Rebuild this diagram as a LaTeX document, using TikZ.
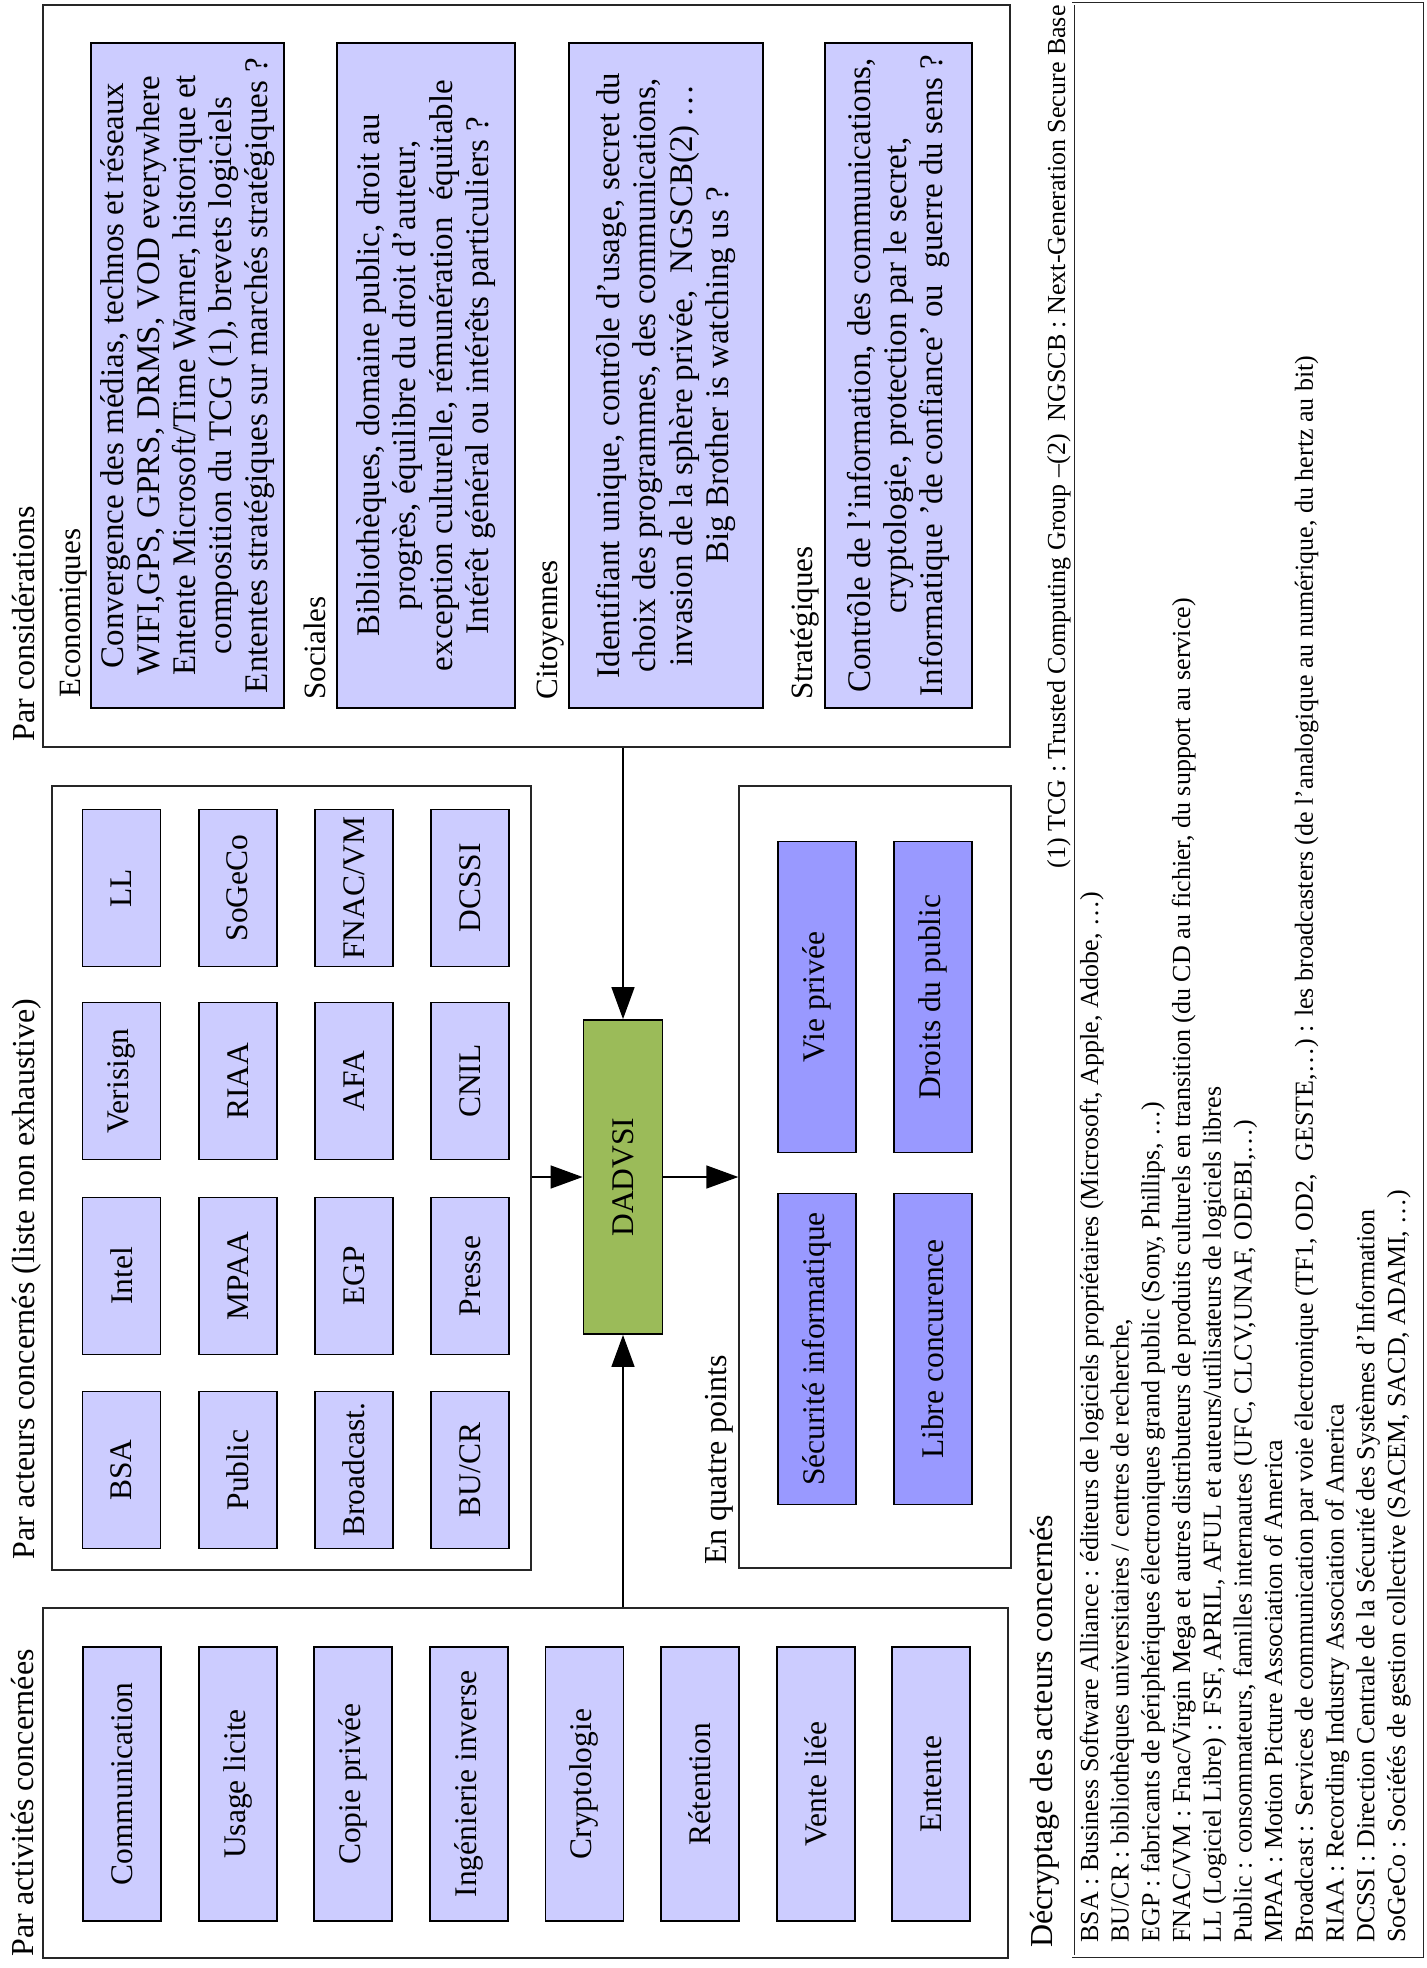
\documentclass[tikz,border=0pt]{standalone}
\usepackage{fontspec}
\setmainfont{Liberation Serif}
\usepackage{xcolor}
\definecolor{dadvsiLilac}{HTML}{CCCCFF}
\definecolor{dadvsiBlue}{HTML}{9999FF}
\definecolor{dadvsiGreen}{HTML}{9BBB59}
\usepackage{tikz}
\usetikzlibrary{arrows.meta}

\begin{document}
\begin{tikzpicture}[
		x=0.5pt, y=-0.5pt,
		frame/.style={
			draw=black!85,
			line width=0.7pt,
			inner sep=0pt
		},
		box/.style={
			draw,
			line width=0.9pt,
			fill=dadvsiLilac,
			rotate=90,
			minimum height=39pt,
			font=\fontsize{15.75}{18}\selectfont
		},
		actbox/.style={box, minimum width=137pt},
		actorbox/.style={box, minimum width=78.5pt},
		pointbox/.style={box, fill=dadvsiBlue, minimum width=155.5pt},
		consbox/.style={box, minimum width=332.5pt, align=center, font=\fontsize{16.5}{18.1}\selectfont},
		title/.style={rotate=90, anchor=base west, inner sep=0pt, font=\fontsize{16}{19}\selectfont},
		legend/.style={rotate=90, anchor=base west, inner sep=0pt, font=\fontsize{13}{15}\selectfont},
		arrow/.style={-{Triangle[length=16pt, width=11.5pt]}, line width=0.75pt}
		]
		
		\useasboundingbox (0,0) rectangle (1426,1968);
		
		\node[frame, minimum width=483.5pt, minimum height=371pt] (consid) at (526.5,376) {};
		\node[frame, minimum width=239.5pt, minimum height=392pt] (acteurs) at (291.5,1178) {};
		\node[frame, minimum width=136pt, minimum height=391pt] (quatre) at (875,1177) {};
		\node[frame, minimum width=482.5pt, minimum height=175pt] (activ) at (525.5,1783) {};
		\node[frame, line width=0.4pt, double, double distance=0.7pt, minimum width=174.5pt, minimum height=976pt] (decrypt) at (1247.5,980) {};
		
		\node[title] (tconsid) at (34,742) {Par considérations};
		\node[title] (tacteurs) at (34,1560) {Par acteurs concernés (liste non exhaustive)};
		\node[title] (tactiv) at (33,1957) {Par activités concernées};
		\node[title] (tquatre) at (726,1565) {En quatre points};
		\node[title] (tdecrypt) at (1052,1948) {Décryptage des acteurs concernés};
		
		\node[consbox, minimum height=96.5pt] (eco) at (187.5,375.5) {Convergence des médias, technos et réseaux\\WIFI,GPS, GPRS, DRMS, VOD everywhere\\Entente Microsoft/Time Warner, historique et\\composition du TCG (1), brevets logiciels\\Ententes stratégiques sur marchés stratégiques ?};
		\node[consbox, minimum height=89pt] (soc) at (426,375.5) {Bibliothèques, domaine public, droit au\\progrès, équilibre du droit d'auteur,\\exception culturelle, rémunération~ équitable\\Intérêt général ou intérêts particuliers ?};
		\node[consbox, minimum height=97pt] (cit) at (666,375.5) {Identifiant unique, contrôle d'usage, secret du\\choix des programmes, des communications,\\invasion de la sphère privée,~ NGSCB(2) \ldots\\Big Brother is watching us ?};
		\node[consbox, minimum height=73.5pt] (strat) at (898.5,375.5) {Contrôle de l'information, des communications,\\cryptologie, protection par le secret,\\Informatique 'de confiance' ou~ guerre du sens ?};
		\node[title, font=\fontsize{15.5}{18}\selectfont] (leco) at (80,698) {Economiques};
		\node[title, font=\fontsize{15.5}{18}\selectfont] (lsoc) at (325,700) {Sociales};
		\node[title, font=\fontsize{15.5}{18}\selectfont] (lcit) at (557,700) {Citoyennes};
		\node[title, font=\fontsize{15.5}{18}\selectfont] (lstrat) at (812,700) {Stratégiques};
		
		\foreach \acteur [count=\j from 0] in {LL, SoGeCo, FNAC/VM, DCSSI}
			\node[actorbox] (acteurA\j) at ({121.5+116.2*\j},888) {\acteur};
		\foreach \acteur [count=\j from 0] in {Verisign, RIAA, AFA, CNIL}
			\node[actorbox] (acteurB\j) at ({121.5+116.2*\j},1081) {\acteur};
		\foreach \acteur [count=\j from 0] in {Intel, MPAA, EGP, Presse}
			\node[actorbox] (acteurC\j) at ({121.5+116.2*\j},1276) {\acteur};
		\foreach \acteur [count=\j from 0] in {BSA, Public, Broadcast., BU/CR}
			\node[actorbox] (acteurD\j) at ({121.5+116.2*\j},1470) {\acteur};
		
		\foreach \activite [count=\i from 0] in {Communication, Usage licite, Copie privée, Ingénierie inverse, Cryptologie, Rétention, Vente liée, Entente}
			\node[actbox] (activ\i) at ({122+115.6*\i},1784) {\activite};
		
		\node[box, fill=dadvsiGreen, minimum width=157pt, minimum height=39.5pt] (dadvsi) at (623,1177) {DADVSI};
		
		\node[pointbox] (vie) at (817,997) {Vie privée};
		\node[pointbox] (droits) at (933,997) {Droits du public};
		\node[pointbox] (secu) at (817,1349) {Sécurité informatique};
		\node[pointbox] (libre) at (933,1349) {Libre concurence};
		
		\draw[arrow] (dadvsi |- consid.south) -- (dadvsi);
		\draw[arrow] (dadvsi |- activ.north) -- (dadvsi);
		\draw[arrow] (acteurs.east |- dadvsi) -- (dadvsi);
		\draw[arrow] (dadvsi) -- (quatre.west |- dadvsi);
		
		\node[legend, anchor=base east] (notes) at (1065,5) {(1) TCG : Trusted Computing Group --(2)~ NGSCB : Next-Generation Secure Base};
		
		\foreach \ligne [count=\k from 0] in {
			{BSA : Business Software Alliance : éditeurs de logiciels propriétaires (Microsoft, Apple, Adobe, \ldots)},
			{BU/CR : bibliothèques universitaires / centres de recherche,},
			{EGP : fabricants de périphériques électroniques grand public (Sony, Phillips, \ldots)},
			{FNAC/VM : Fnac/Virgin Mega et autres distributeurs de produits culturels en transition (du CD au fichier, du support au service)},
			{LL (Logiciel Libre) : FSF, APRIL, AFUL et auteurs/utilisateurs de logiciels libres},
			{Public : consommateurs, familles internautes (UFC, CLCV,UNAF, ODEBI,\ldots)},
			{MPAA : Motion Picture Association of America},
			{Broadcast : Services de communication par voie électronique (TF1, OD2,~ GESTE,\ldots) : les broadcasters (de l'analogique au numérique, du hertz au bit)},
			{RIAA : Recording Industry Association of America},
			{DCSSI : Direction Centrale de la Sécurité des Systèmes d'Information},
			{SoGeCo : Sociétés de gestion collective (SACEM, SACD, ADAMI, \ldots)}}
			\node[legend] (def\k) at ({1098+30.7*\k},1943) {\ligne};
		
	\end{tikzpicture}
\end{document}
